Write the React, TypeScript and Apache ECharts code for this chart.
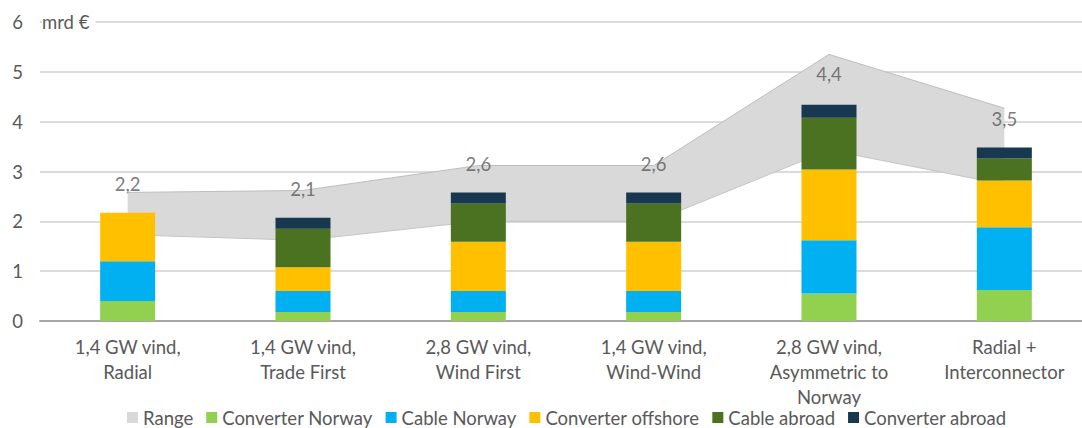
import React, { useEffect, useRef } from "react";
import * as echarts from "echarts";

const categories = [
  "1,4 GW vind,\nRadial",
  "1,4 GW vind,\nTrade First",
  "2,8 GW vind,\nWind First",
  "1,4 GW vind,\nWind-Wind",
  "2,8 GW vind,\nAsymmetric to\nNorway",
  "Radial +\nInterconnector",
];

const converterNorway = [0.4, 0.18, 0.18, 0.18, 0.55, 0.62];
const cableNorway = [0.8, 0.42, 0.42, 0.42, 1.07, 1.26];
const converterOffshore = [0.97, 0.48, 0.99, 0.99, 1.42, 0.94];
const cableAbroad = [0, 0.77, 0.77, 0.77, 1.04, 0.44];
const converterAbroad = [0, 0.22, 0.22, 0.22, 0.26, 0.22];
const totals = [2.2, 2.1, 2.6, 2.6, 4.4, 3.5];

const rangeLow = [1.73, 1.62, 2.0, 2.0, 3.43, 2.74];
const rangeHigh = [2.58, 2.62, 3.12, 3.12, 5.35, 4.27];

const yTicks = [0, 1, 2, 3, 4, 5, 6];

const FONT = "Lato, 'Open Sans', sans-serif";
const TEXT = "#595959";
const FS = 18.5;

export default function App() {
  const ref = useRef<HTMLDivElement>(null);

  useEffect(() => {
    if (!ref.current) return;
    const chart = echarts.init(ref.current, null, { renderer: "svg" });
    const rangeDiff = rangeHigh.map((h, i) => +(h - rangeLow[i]).toFixed(3));
    const barSeries = [
      { name: "Converter Norway", data: converterNorway, color: "#92D050" },
      { name: "Cable Norway", data: cableNorway, color: "#00B0F0" },
      { name: "Converter offshore", data: converterOffshore, color: "#FFC000" },
      { name: "Cable abroad", data: cableAbroad, color: "#4B7220" },
      { name: "Converter abroad", data: converterAbroad, color: "#17384F" },
    ].map((s) => ({
      type: "bar",
      name: s.name,
      stack: "cost",
      barWidth: 55,
      z: 3,
      data: s.data.map((v) => (v === 0 ? null : v)),
      itemStyle: { color: s.color },
    }));

    chart.setOption({
      animation: false,
      textStyle: { fontFamily: FONT },
      grid: { left: 40, right: 0, top: 22, bottom: 107 },
      legend: {
        top: 408,
        left: 127,
        padding: 0,
        icon: "rect",
        itemWidth: 11,
        itemHeight: 11,
        itemGap: 13,
        textStyle: { fontSize: FS, color: TEXT, fontFamily: FONT },
        data: [
          "Range",
          "Converter Norway",
          "Cable Norway",
          "Converter offshore",
          "Cable abroad",
          "Converter abroad",
        ],
      },
      xAxis: {
        type: "category",
        data: categories,
        axisLine: { lineStyle: { color: "#A6A6A6", width: 2 } },
        axisTick: { show: false },
        axisLabel: {
          interval: 0,
          fontSize: FS,
          color: TEXT,
          lineHeight: 25,
          margin: 13,
          fontFamily: FONT,
        },
      },
      yAxis: {
        type: "value",
        min: yTicks[0],
        max: yTicks[yTicks.length - 1],
        interval: 1,
        axisLine: { show: false },
        axisTick: { show: false },
        axisLabel: { fontSize: FS, color: TEXT, margin: 17, fontFamily: FONT },
        splitLine: { lineStyle: { color: "#CFCFCF", width: 1.5 } },
      },
      graphic: [
        {
          type: "text",
          x: 42,
          y: 22,
          z: 100,
          style: {
            text: "mrd €",
            fill: TEXT,
            font: `${FS}px ${FONT}`,
            verticalAlign: "middle",
            backgroundColor: "#fff",
            padding: [3, 6, 3, 0],
          },
        },
      ],
      series: [
        {
          type: "line",
          name: "RangeLow",
          stack: "range",
          data: rangeLow,
          symbol: "none",
          z: 1,
          lineStyle: { color: "#C4C4C4", width: 1 },
          itemStyle: { color: "#C4C4C4" },
        },
        {
          type: "line",
          name: "Range",
          stack: "range",
          data: rangeDiff,
          symbol: "none",
          z: 1,
          lineStyle: { color: "#BDBDBD", width: 1 },
          itemStyle: { color: "#D9D9D9", borderColor: "#BFBFBF" },
          areaStyle: { color: "#D9D9D9", opacity: 1 },
        },
        ...barSeries,
        {
          type: "scatter",
          name: "Total",
          data: totals,
          symbolSize: 0,
          z: 5,
          label: {
            show: true,
            position: "top",
            distance: 18,
            fontSize: FS,
            color: TEXT,
            fontFamily: FONT,
            formatter: (p: any) => String(p.value).replace(".", ","),
          },
        },
      ],
    });
    return () => chart.dispose();
  }, []);

  return (
    <div
      style={{
        position: "absolute",
        left: 0,
        top: 0,
        width: 1082,
        height: 428,
        overflow: "hidden",
        background: "#fff",
      }}
    >
      <div ref={ref} style={{ width: 1092, height: 428 }} />
    </div>
  );
}
